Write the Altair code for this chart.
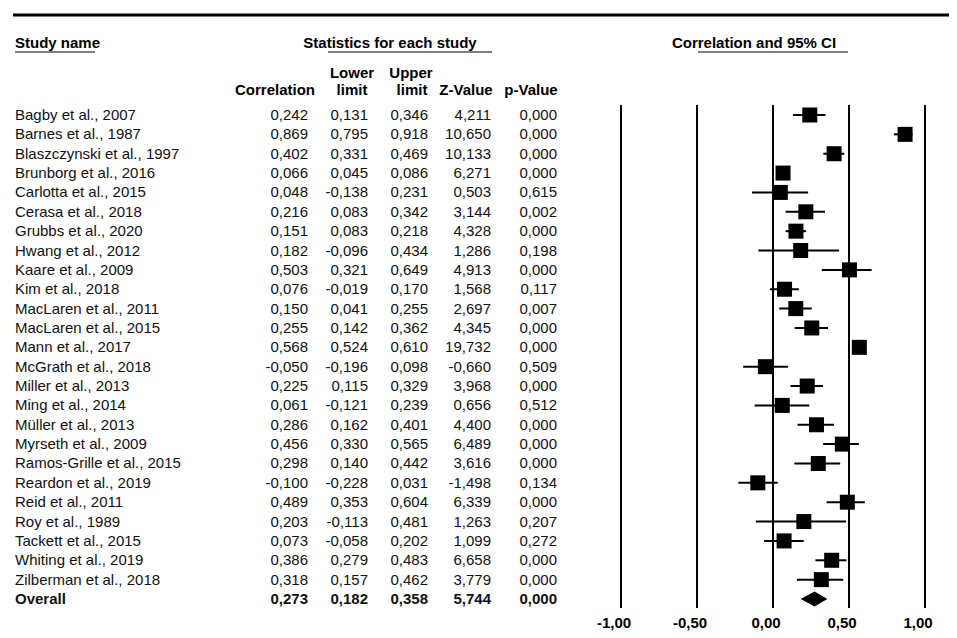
import altair as alt
import pandas as pd

# ---------------- data ----------------
studies = [
    "Bagby et al., 2007", "Barnes et al., 1987", "Blaszczynski et al., 1997",
    "Brunborg et al., 2016", "Carlotta et al., 2015", "Cerasa et al., 2018",
    "Grubbs et al., 2020", "Hwang et al., 2012", "Kaare et al., 2009",
    "Kim et al., 2018", "MacLaren et al., 2011", "MacLaren et al., 2015",
    "Mann et al., 2017", "McGrath et al., 2018", "Miller et al., 2013",
    "Ming et al., 2014", "Müller et al., 2013", "Myrseth et al., 2009",
    "Ramos-Grille et al., 2015", "Reardon et al., 2019", "Reid et al., 2011",
    "Roy et al., 1989", "Tackett et al., 2015", "Whiting et al., 2019",
    "Zilberman et al., 2018",
]
corr = [0.242, 0.869, 0.402, 0.066, 0.048, 0.216, 0.151, 0.182, 0.503, 0.076,
        0.150, 0.255, 0.568, -0.050, 0.225, 0.061, 0.286, 0.456, 0.298, -0.100,
        0.489, 0.203, 0.073, 0.386, 0.318]
lower = [0.131, 0.795, 0.331, 0.045, -0.138, 0.083, 0.083, -0.096, 0.321, -0.019,
         0.041, 0.142, 0.524, -0.196, 0.115, -0.121, 0.162, 0.330, 0.140, -0.228,
         0.353, -0.113, -0.058, 0.279, 0.157]
upper = [0.346, 0.918, 0.469, 0.086, 0.231, 0.342, 0.218, 0.434, 0.649, 0.170,
         0.255, 0.362, 0.610, 0.098, 0.329, 0.239, 0.401, 0.565, 0.442, 0.031,
         0.604, 0.481, 0.202, 0.483, 0.462]
zval = [4.211, 10.650, 10.133, 6.271, 0.503, 3.144, 4.328, 1.286, 4.913, 1.568,
        2.697, 4.345, 19.732, -0.660, 3.968, 0.656, 4.400, 6.489, 3.616, -1.498,
        6.339, 1.263, 1.099, 6.658, 3.779]
pval = [0.000, 0.000, 0.000, 0.000, 0.615, 0.002, 0.000, 0.198, 0.000, 0.117,
        0.007, 0.000, 0.000, 0.509, 0.000, 0.512, 0.000, 0.000, 0.000, 0.134,
        0.000, 0.207, 0.272, 0.000, 0.000]

overall_name = "Overall"
overall_corr = 0.273
overall_lower = 0.182
overall_upper = 0.358
overall_z = 5.744
overall_p = 0.000

tick_values = [-1.0, -0.5, 0.0, 0.5, 1.0]
tick_labels = ["-1,00", "-0,50", "0,00", "0,50", "1,00"]

header_top = ["Study name", "Statistics for each study", "Correlation and 95% CI"]
col_headers_1 = ["Lower", "Upper"]
col_headers_2 = ["Correlation", "limit", "limit", "Z-Value", "p-Value"]


def fmt(v):
    return f"{v:.3f}".replace(".", ",")


names = studies + [overall_name]
df = pd.DataFrame({
    "name": names,
    "r": corr + [overall_corr],
    "lo": lower + [overall_lower],
    "hi": upper + [overall_upper],
    "z": zval + [overall_z],
    "p": pval + [overall_p],
})
df["row"] = range(len(df))
df["overall"] = df["name"] == overall_name
for c in ["r", "lo", "hi", "z", "p"]:
    df[c + "_s"] = df[c].map(fmt)

ov_row = len(studies)
diamond_h = 0.39
diamond = pd.DataFrame({
    "x": [overall_lower, overall_corr, overall_upper],
    "y1": [ov_row, ov_row - diamond_h, ov_row],
    "y2": [ov_row, ov_row + diamond_h, ov_row],
})
ticks_df = pd.DataFrame({"v": tick_values, "lab": tick_labels})

# ---------------- layout ----------------
W, H = 941, 624
FONT = "Liberation Sans"
FS = 15
xscale = alt.Scale(domain=[-1, 1], range=[613, 917], nice=False, zero=False)
yscale = alt.Scale(domain=[0, 25], range=[107, 591], nice=False, zero=False)
Y = alt.Y("row:Q", scale=yscale, axis=None)

base = alt.Chart(df)
studies_only = base.transform_filter("!datum.overall")
overall_only = base.transform_filter("datum.overall")

layers = []

# top thick line
layers.append(alt.Chart(pd.DataFrame({"a": [0]})).mark_rule(color="black", strokeWidth=3).encode(
    x=alt.value(5), x2=alt.value(941), y=alt.value(7)))

# header texts
hdr_pos = [(7, "left"), (382, "center"), (746, "center")]
for lab, (px, al) in zip(header_top, hdr_pos):
    layers.append(alt.Chart(pd.DataFrame({"t": [lab]})).mark_text(
        font=FONT, fontSize=FS, fontWeight="bold", align=al, baseline="middle", color="black"
    ).encode(x=alt.value(px), y=alt.value(35), text="t:N"))

# underlines
for x1, x2 in [(7, 87), (320, 484), (690, 840)]:
    layers.append(alt.Chart(pd.DataFrame({"a": [0]})).mark_rule(color="#555", strokeWidth=1.5).encode(
        x=alt.value(x1), x2=alt.value(x2), y=alt.value(44)))

# column headers
for lab, px in zip(col_headers_1, [344, 403]):
    layers.append(alt.Chart(pd.DataFrame({"t": [lab]})).mark_text(
        font=FONT, fontSize=FS, fontWeight="bold", align="center", baseline="middle", color="black"
    ).encode(x=alt.value(px), y=alt.value(65), text="t:N"))
for lab, (px, al) in zip(col_headers_2, [(307, "right"), (344, "center"), (404, "center"),
                                         (458, "center"), (523, "center")]):
    layers.append(alt.Chart(pd.DataFrame({"t": [lab]})).mark_text(
        font=FONT, fontSize=FS, fontWeight="bold", align=al, baseline="middle", color="black"
    ).encode(x=alt.value(px), y=alt.value(82), text="t:N"))

# table body
cols = [("name", 7, "left"), ("r_s", 300, "right"), ("lo_s", 360, "right"),
        ("hi_s", 420, "right"), ("z_s", 483, "right"), ("p_s", 549, "right")]
for src, weight in [(studies_only, "normal"), (overall_only, "bold")]:
    for field, px, al in cols:
        layers.append(src.mark_text(
            font=FONT, fontSize=FS, fontWeight=weight, align=al, baseline="middle", color="#111"
        ).encode(x=alt.value(px), y=Y, text=f"{field}:N"))

# vertical reference lines
layers.append(alt.Chart(ticks_df).mark_rule(color="black", strokeWidth=2).encode(
    x=alt.X("v:Q", scale=xscale, axis=None), y=alt.value(97), y2=alt.value(600)))

# tick labels
layers.append(alt.Chart(ticks_df).mark_text(
    font=FONT, fontSize=FS, fontWeight="bold", align="center", baseline="middle", color="black", dx=-7
).encode(x=alt.X("v:Q", scale=xscale, axis=None), y=alt.value(615), text="lab:N"))

# CI lines
layers.append(studies_only.mark_rule(color="black", strokeWidth=2).encode(
    x=alt.X("lo:Q", scale=xscale, axis=None), x2="hi:Q", y=Y))

# squares
layers.append(studies_only.mark_square(size=225, color="black", opacity=1).encode(
    x=alt.X("r:Q", scale=xscale, axis=None), y=Y))

# overall diamond
layers.append(alt.Chart(diamond).mark_area(color="black", orient="vertical", opacity=1).encode(
    x=alt.X("x:Q", scale=xscale, axis=None),
    y=alt.Y("y1:Q", scale=yscale, axis=None),
    y2="y2:Q"))

chart = alt.layer(*layers).properties(
    width=W, height=H, padding=0,
    autosize=alt.AutoSizeParams(type="none"),
    background="white",
).configure_view(stroke=None)

chart.save("out.html", embed_options={"renderer": "svg", "actions": False})
